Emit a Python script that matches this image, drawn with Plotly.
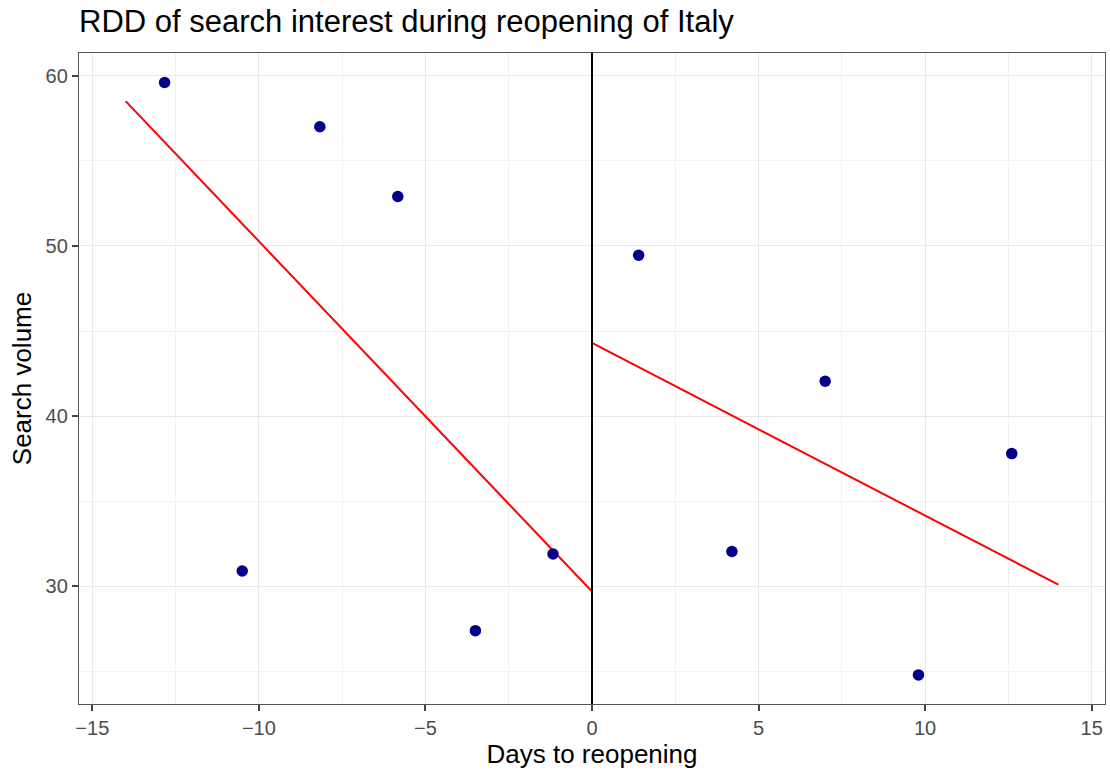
import plotly.graph_objects as go

# Binned data points
left_x = [-12.83, -10.5, -8.17, -5.83, -3.5, -1.17]
left_y = [59.6, 30.9, 57.0, 52.9, 27.4, 31.9]
right_x = [1.4, 4.2, 7.0, 9.8, 12.6]
right_y = [49.45, 32.05, 42.05, 24.8, 37.8]

# Fitted lines (endpoints)
fit_left_x = [-14, 0]
fit_left_y = [58.5, 29.7]
fit_right_x = [0, 14]
fit_right_y = [44.3, 30.1]

x_range = [-15.4, 15.4]
y_range = [23.09, 61.33]

FONT = "Liberation Sans, Arial, Helvetica, sans-serif"

fig = go.Figure()
for xs, ys in [(fit_left_x, fit_left_y), (fit_right_x, fit_right_y)]:
    fig.add_trace(go.Scatter(x=xs, y=ys, mode="lines",
                             line=dict(color="#FF0000", width=2), showlegend=False))
fig.add_trace(go.Scatter(x=left_x + right_x, y=left_y + right_y, mode="markers",
                         marker=dict(color="#00008B", size=11.5), showlegend=False))

fig.add_vline(x=0, line=dict(color="black", width=2))

axis_common = dict(
    showline=True, linecolor="#555555", linewidth=1.3, mirror=True,
    ticks="outside", ticklen=6, tickcolor="#444444", tickwidth=1.5,
    showgrid=True, gridcolor="#E8E8E8", gridwidth=1.4,
    zeroline=False,
    tickfont=dict(family=FONT, size=20, color="#4D4D4D"),
    title_font=dict(family=FONT, size=26, color="black"),
)

fig.update_xaxes(range=x_range, tickmode="array", tickvals=[-15, -10, -5, 0, 5, 10, 15],
                 ticktext=["\u221215", "\u221210", "\u22125", "0", "5", "10", "15"],
                 minor=dict(showgrid=True, gridcolor="#F1F1F1", gridwidth=1,
                            tickvals=[-12.5, -7.5, -2.5, 2.5, 7.5, 12.5]),
                 title_text="Days to reopening", title_standoff=4, **axis_common)
fig.update_yaxes(range=y_range, tickmode="array", tickvals=[30, 40, 50, 60],
                 minor=dict(showgrid=True, gridcolor="#F1F1F1", gridwidth=1,
                            tickvals=[25, 35, 45, 55]),
                 title_text="Search volume", title_standoff=6, **axis_common)

fig.update_layout(
    width=1110, height=771,
    margin=dict(l=79, r=5, t=53, b=67),
    paper_bgcolor="white", plot_bgcolor="white",
    title=dict(text="RDD of search interest during reopening of Italy",
               font=dict(family=FONT, size=31, color="black"),
               x=0, xref="paper", xanchor="left", y=0.972, yanchor="middle"),
)

fig.write_html("out.html")
